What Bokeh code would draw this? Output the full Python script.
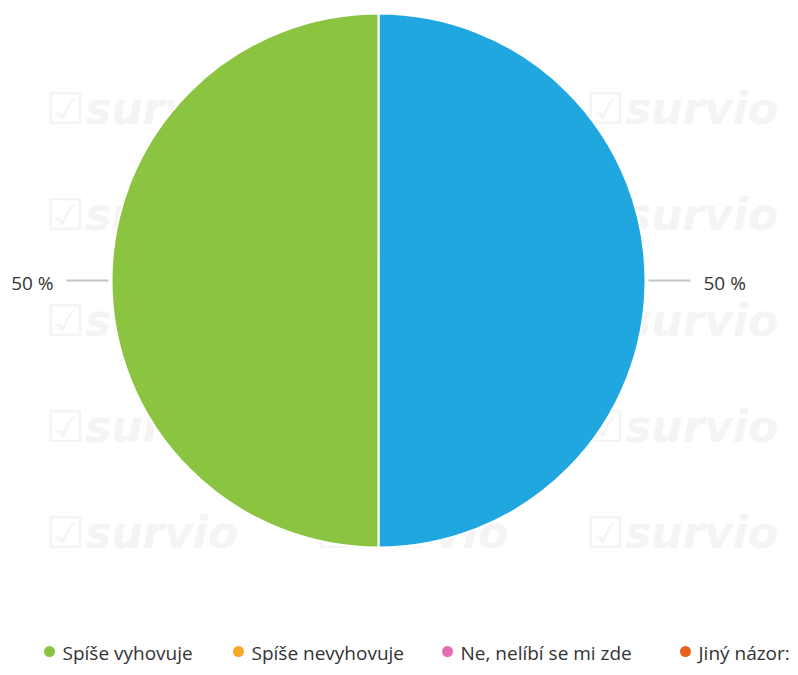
import math
from bokeh.plotting import figure
from bokeh.models import Range1d, ColumnDataSource
from bokeh.core.properties import value
from bokeh.embed import file_html
from bokeh.resources import INLINE

# ---- data ----
categories = ["Ano, líbí se mi zde", "Spíše vyhovuje", "Spíše nevyhovuje",
              "Ne, nelíbí se mi zde", "Jiný názor:"]
percent = [50, 50, 0, 0, 0]
colors = ["#21a7e0", "#8bc440", "#f9a825", "#e76bb3", "#e9601d"]

# ---- layout (image pixel coordinates, y downwards) ----
W, H = 790, 667
CX, CY, R = 378, 280, 267          # pie centre & radius
legend_dot_x = [None, 49, 238, 447, 685]   # first item lies outside the view
LEGEND_Y = 651
FONT = "Open Sans"

p = figure(width=W, height=H, output_backend="svg", toolbar_location=None,
           x_range=Range1d(0, W), y_range=Range1d(-H, 0), min_border=0)
p.axis.visible = False
p.grid.visible = False
p.outline_line_color = None
p.background_fill_color = "white"
p.border_fill_color = "white"

# ---- faint watermark ----
wm_x, wm_y = [], []
for row in range(1, 6):
    for col in range(3):
        wm_x.append(45 + col * 270)
        wm_y.append(-(2 + row * 106))
p.text(x=wm_x, y=wm_y, text=["☑survio"] * len(wm_x), text_font=value("DejaVu Sans"),
       text_font_size="44px", text_font_style="bold italic", text_color="#f4f4f4",
       text_baseline="middle", text_align="left")

# ---- pie ----
total = sum(percent)
starts, ends, mids, keep = [], [], [], []
acc = 0.0
for i, v in enumerate(percent):
    a0 = math.pi / 2 - 2 * math.pi * acc / total
    acc += v
    a1 = math.pi / 2 - 2 * math.pi * acc / total
    if v > 0:
        keep.append(i)
        starts.append(a0)
        ends.append(a1)
        mids.append((a0 + a1) / 2)

src = ColumnDataSource(dict(start=starts, end=ends,
                            color=[colors[i] for i in keep],
                            cat=[categories[i] for i in keep],
                            pct=[percent[i] for i in keep]))
p.wedge(x=CX, y=-CY, radius=R, start_angle="start", end_angle="end",
        direction="clock", fill_color="color", line_color="white",
        line_width=2, source=src)

# ---- data labels with leader lines ----
for i, m in zip(keep, mids):
    v = percent[i]
    c, s = math.cos(m), math.sin(m)
    x1, y1 = CX + (R + 3) * c, -CY + (R + 3) * s
    x2, y2 = CX + (R + 45) * c, -CY + (R + 45) * s
    p.line([x1, x2], [y1, y2], line_color="#c4c4c4", line_width=2)
    xt = CX + (R + 58) * c
    p.text(x=[xt], y=[y2 - 2], text=[f"{v} %"], text_font=value(FONT),
           text_font_size="19px", text_color="#333333", text_baseline="middle",
           text_align="left" if c > 0 else "right")

# ---- legend ----
vis = [i for i, x in enumerate(legend_dot_x) if x is not None]
lx = [legend_dot_x[i] for i in vis]
p.scatter(x=lx, y=[-LEGEND_Y] * len(vis), size=11,
          fill_color=[colors[i] for i in vis], line_color=None)
p.text(x=[x + 13 for x in lx], y=[-LEGEND_Y - 1] * len(vis),
       text=[categories[i] for i in vis], text_font=value(FONT),
       text_font_size="19px", text_color="#333333", text_baseline="middle",
       text_align="left")

open("out.html", "w").write(file_html(p, INLINE))
